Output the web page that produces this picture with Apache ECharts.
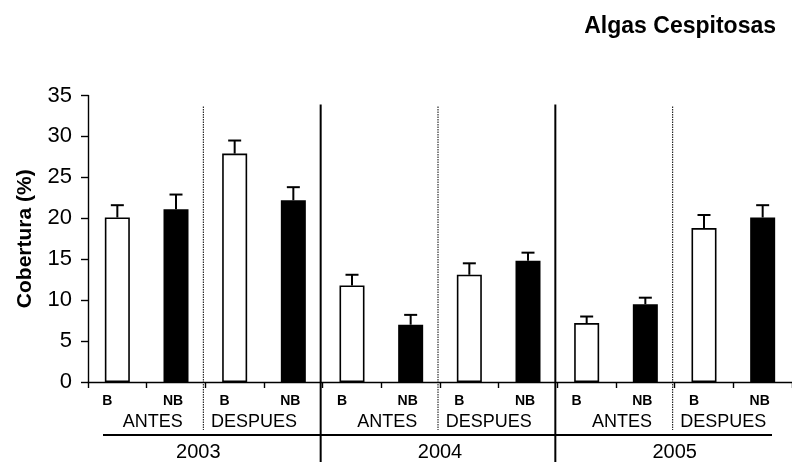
<!DOCTYPE html>
<html>
<head>
<meta charset="utf-8">
<script src="https://cdn.jsdelivr.net/npm/echarts@6/dist/echarts.min.js"></script>
<style>html,body{margin:0;padding:0;background:#fff;}#c{width:792px;height:462px;}</style>
</head>
<body>
<div id="c"></div>
<script>
// ---- data ----
var treatments = ['B','NB','B','NB','B','NB','B','NB','B','NB','B','NB'];
var periods = ['ANTES','DESPUES','ANTES','DESPUES','ANTES','DESPUES'];
var years = ['2003','2004','2005'];
var cover = [20.1, 21.1, 27.9, 22.2, 11.8, 7.0, 13.1, 14.8, 7.2, 9.5, 18.8, 20.1];
var stdErr = [1.5, 1.8, 1.6, 1.6, 1.3, 1.2, 1.4, 1.0, 0.8, 0.8, 1.6, 1.5];
var yearBoundaries = [4, 8];
var periodBoundaries = [2, 6, 10];

var FONT = '"Liberation Sans", Arial, Helvetica, sans-serif';
var chart = echarts.init(document.getElementById('c'), null, {renderer: 'canvas'});

var barData = cover.map(function (v, i) {
  var isB = treatments[i] === 'B';
  return {value: v, itemStyle: {color: isB ? '#ffffff' : '#000000', borderColor: '#000', borderWidth: 1.6}};
});
var errData = cover.map(function (v, i) { return [i, v, v + stdErr[i]]; });
var sepData = yearBoundaries.map(function (b) { return [b, 1]; })
  .concat(periodBoundaries.map(function (b) { return [b, 0]; }));

chart.setOption({
  animation: false,
  backgroundColor: '#fff',
  title: {
    text: 'Algas Cespitosas', right: 11, top: 10,
    textStyle: {fontFamily: FONT, fontSize: 23, fontWeight: 'bold', color: '#000'}
  },
  grid: {left: 88, right: -6, top: 95.5, bottom: 79.5, containLabel: false},
  xAxis: [
    {
      type: 'category', data: treatments, position: 'bottom',
      axisLine: {lineStyle: {color: '#000', width: 1.4}},
      axisTick: {show: true, length: 6, lineStyle: {color: '#000', width: 1.4}, alignWithLabel: false},
      axisLabel: {
        margin: 12, interval: 0,
        formatter: function (v) { return v === 'B' ? '{b|B}' : '{nb|NB}'; },
        rich: {
          b: {fontFamily: FONT, fontSize: 14, fontWeight: 'bold', color: '#000', padding: [0, 20, 0, 0]},
          nb: {fontFamily: FONT, fontSize: 14, fontWeight: 'bold', color: '#000', padding: [0, 6, 0, 0]}
        }
      }
    },
    {
      type: 'category', data: periods, position: 'bottom', gridIndex: 0,
      axisLine: {show: false}, axisTick: {show: false},
      axisLabel: {
        margin: 31, interval: 0,
        formatter: function (v) { return v === 'ANTES' ? '{a|ANTES}' : '{d|DESPUES}'; },
        rich: {
          a: {fontFamily: FONT, fontSize: 18, color: '#000', padding: [0, 0, 0, 12]},
          d: {fontFamily: FONT, fontSize: 18, color: '#000', padding: [0, 20, 0, 0]}
        }
      }
    },
    {
      type: 'category', data: years, position: 'bottom', gridIndex: 0,
      axisLine: {show: false}, axisTick: {show: false},
      axisLabel: {
        margin: 60, interval: 0,
        formatter: function (v) { return v === '2003' ? '{f|' + v + '}' : '{y|' + v + '}'; },
        rich: {
          y: {fontFamily: FONT, fontSize: 20, color: '#000'},
          f: {fontFamily: FONT, fontSize: 20, color: '#000', padding: [0, 14, 0, 0]}
        }
      }
    }
  ],
  yAxis: {
    type: 'value', min: 0, max: 35, interval: 5,
    name: 'Cobertura (%)', nameLocation: 'middle', nameGap: 52, nameRotate: 90,
    nameTextStyle: {fontFamily: FONT, fontSize: 21, fontWeight: 'bold', color: '#000'},
    axisLine: {show: true, lineStyle: {color: '#000', width: 1.4}},
    axisTick: {show: true, length: 7, lineStyle: {color: '#000', width: 1.4}},
    axisLabel: {fontFamily: FONT, fontSize: 22, color: '#000', margin: 16},
    splitLine: {show: false}
  },
  series: [
    {
      type: 'bar', xAxisIndex: 0, data: barData, barWidth: 25, z: 2
    },
    {
      type: 'custom', xAxisIndex: 0, data: errData, z: 3,
      renderItem: function (params, api) {
        var i = api.value(0);
        var p0 = api.coord([i, api.value(1)]);
        var p1 = api.coord([i, api.value(2)]);
        var hw = 6.5;
        var st = {stroke: '#000', lineWidth: 2};
        return {type: 'group', children: [
          {type: 'line', shape: {x1: p0[0], y1: p0[1], x2: p1[0], y2: p1[1]}, style: st},
          {type: 'line', shape: {x1: p1[0] - hw, y1: p1[1], x2: p1[0] + hw, y2: p1[1]}, style: st}
        ]};
      }
    },
    {
      type: 'custom', xAxisIndex: 0, data: sepData, z: 1, clip: false, silent: true,
      renderItem: function (params, api) {
        var b = api.value(0);
        var solid = api.value(1) === 1;
        var band = api.size([1, 0])[0];
        var x = api.coord([b, 0])[0] - band / 2 - 2;
        var yTop = api.coord([0, 35])[1];
        var y0 = api.coord([0, 0])[1];
        var children = [];
        if (solid) {
          children.push({type: 'line', shape: {x1: x, y1: yTop + 9, x2: x, y2: api.getHeight()},
            style: {stroke: '#000', lineWidth: 2}});
        } else {
          children.push({type: 'line', shape: {x1: x, y1: yTop + 11, x2: x, y2: y0 + 48},
            style: {stroke: '#000', lineWidth: 1, lineDash: [1.5, 1]}});
        }
        if (params.dataIndex === 0) {
          var xl = api.coord([0, 0])[0] - band / 2 + 15;
          var xr = api.coord([treatments.length - 1, 0])[0] + band / 2 - 20;
          children.push({type: 'line', shape: {x1: xl, y1: y0 + 53, x2: xr, y2: y0 + 53},
            style: {stroke: '#000', lineWidth: 2}});
        }
        return {type: 'group', children: children};
      }
    }
  ]
});
</script>
</body>
</html>
